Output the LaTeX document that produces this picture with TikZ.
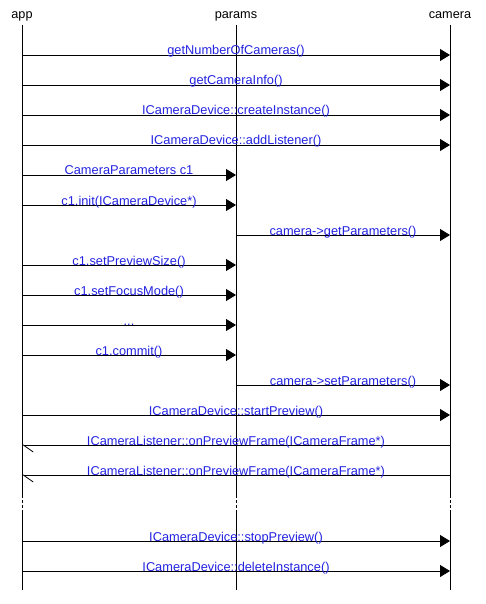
\documentclass[tikz,border=0pt]{standalone}
\usepackage{fontspec}
\setmainfont{Liberation Sans}
\usetikzlibrary{arrows.meta}
\definecolor{msgblue}{RGB}{35,35,225}
\tikzset{
  actor/.style = {anchor=base, inner sep=0pt, font=\fontsize{12.7}{14}\selectfont},
  msg_lbl/.style = {anchor=base, inner sep=0pt, text=msgblue, font=\fontsize{12.8}{14}\selectfont},
  lifeline/.style = {draw=black, line width=0.8pt},
  lifegap/.style = {lifeline, dash pattern=on 3pt off 2pt},
  msg_call/.style = {draw=black, line width=0.8pt, -{Triangle[length=10pt, width=12pt]}},
  msg_back/.style = {draw=black, line width=0.8pt, -{Straight Barb[harpoon, length=10pt, width=14pt]}},
}

\begin{document}
\begin{tikzpicture}[x=1pt, y=-1pt]
  \useasboundingbox (0,0) rectangle (485,604);
  \node [actor] (app) at (22,19) {app};
  \node [actor] (params) at (236,19) {params};
  \node [actor] (camera) at (450,19) {camera};
  \foreach \r/\y in {top/25, 1/55, 2/85, 3/115, 4/145, 5/175, 6/205, 7/235, 8/265, 9/295,
                     10/325, 11/355, 12/385, 13/415, 14/445, 15/475, gapa/495, gapb/510,
                     16/541, 17/571, end/590}
    \foreach \n/\x in {app/22, params/236, camera/450}
      \coordinate (\n\r) at (\x,\y);
  \foreach \n in {app, params, camera} {
    \draw [lifeline] (\n top) -- (\n gapa);
    \draw [lifegap] (\n gapa) -- (\n gapb);
    \draw [lifeline] (\n gapb) -- (\n end);
  }
  \draw [msg_call] (app1) -- node [msg_lbl] {getNumberOfCameras()} (camera1);
  \draw [msg_call] (app2) -- node [msg_lbl] {getCameraInfo()} (camera2);
  \draw [msg_call] (app3) -- node [msg_lbl] {ICameraDevice::createInstance()} (camera3);
  \draw [msg_call] (app4) -- node [msg_lbl] {ICameraDevice::addListener()} (camera4);
  \draw [msg_call] (app5) -- node [msg_lbl] {CameraParameters c1} (params5);
  \draw [msg_call] (app6) -- node [msg_lbl] {c1.init(ICameraDevice*)} (params6);
  \draw [msg_call] (params7) -- node [msg_lbl] {camera->getParameters()} (camera7);
  \draw [msg_call] (app8) -- node [msg_lbl] {c1.setPreviewSize()} (params8);
  \draw [msg_call] (app9) -- node [msg_lbl] {c1.setFocusMode()} (params9);
  \draw [msg_call] (app10) -- node [msg_lbl] {...} (params10);
  \draw [msg_call] (app11) -- node [msg_lbl] {c1.commit()} (params11);
  \draw [msg_call] (params12) -- node [msg_lbl] {camera->setParameters()} (camera12);
  \draw [msg_call] (app13) -- node [msg_lbl] {ICameraDevice::startPreview()} (camera13);
  \draw [msg_back] (camera14) -- node [msg_lbl] {ICameraListener::onPreviewFrame(ICameraFrame*)} (app14);
  \draw [msg_back] (camera15) -- node [msg_lbl] {ICameraListener::onPreviewFrame(ICameraFrame*)} (app15);
  \draw [msg_call] (app16) -- node [msg_lbl] {ICameraDevice::stopPreview()} (camera16);
  \draw [msg_call] (app17) -- node [msg_lbl] {ICameraDevice::deleteInstance()} (camera17);
\end{tikzpicture}
\end{document}
